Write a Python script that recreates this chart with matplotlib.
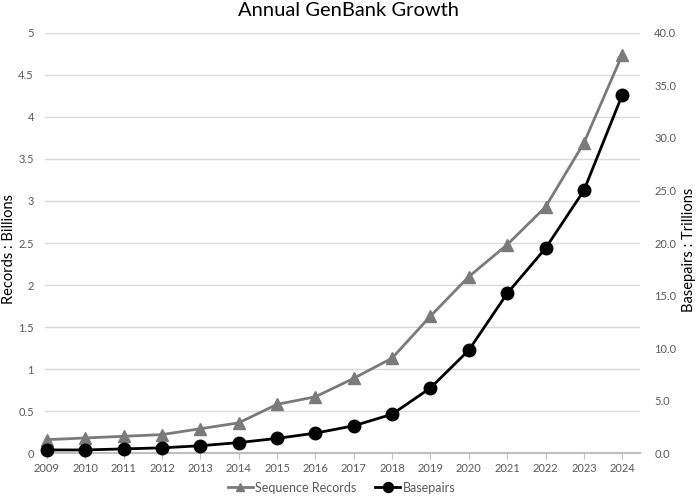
import matplotlib
matplotlib.use("Agg")
import matplotlib.pyplot as plt

years = list(range(2009, 2025))
records = [0.16, 0.18, 0.20, 0.22, 0.29, 0.36, 0.58, 0.67, 0.89, 1.13,
           1.63, 2.10, 2.48, 2.93, 3.69, 4.74]          # billions
basepairs = [0.3, 0.3, 0.4, 0.5, 0.7, 1.0, 1.4, 1.9, 2.6, 3.7,
             6.2, 9.8, 15.2, 19.5, 25.0, 34.1]          # trillions

plt.rcParams['font.family'] = ['Lato', 'DejaVu Sans']

fig = plt.figure(figsize=(6.97, 4.99), dpi=100)
ax = fig.add_axes([0.0646, 0.092, 0.854, 0.842])
ax2 = ax.twinx()

grey = '#7a7a7a'
tick_col = '#595959'

l1, = ax.plot(years, records, color=grey, lw=2, marker='^', ms=8,
              label='Sequence Records', zorder=3, clip_on=False)
l2, = ax2.plot(years, basepairs, color='black', lw=2, marker='o', ms=9,
               label='Basepairs', zorder=3, clip_on=False)

ax.set_xlim(2008.95, 2024.47)
ax.set_ylim(0, 5)
ax2.set_ylim(0, 40)
ax.set_xticks(years)
ax.set_yticks([i * 0.5 for i in range(11)])
ax.set_yticklabels(['0', '0.5', '1', '1.5', '2', '2.5', '3', '3.5', '4', '4.5', '5'])
ax2.set_yticks(range(0, 41, 5))
ax2.set_yticklabels([f'{v:.1f}' for v in range(0, 41, 5)])

ax.grid(axis='y', color='#d9d9d9', lw=1)
ax.set_axisbelow(True)
for a in (ax, ax2):
    for s in a.spines.values():
        s.set_visible(False)
ax.spines['bottom'].set_visible(True)
ax.spines['bottom'].set_color('#bfbfbf')
ax.spines['bottom'].set_linewidth(1.5)

ax.tick_params(axis='x', colors='#bfbfbf', labelcolor=tick_col, labelsize=8,
               length=4, direction='out', pad=3)
ax.tick_params(axis='y', length=0, labelcolor=tick_col, labelsize=8, pad=8)
ax2.tick_params(axis='y', length=0, labelcolor=tick_col, labelsize=8, pad=10)

# axis titles placed in figure coords so they stay inside the canvas
fig.text(0.013, 0.5, 'Records : Billions', rotation=90, fontsize=10.5,
         ha='center', va='center')
fig.text(0.988, 0.5, 'Basepairs : Trillions', rotation=90, fontsize=10.5,
         ha='center', va='center')
fig.suptitle('Annual GenBank Growth', fontsize=14.5, y=0.995, x=0.5)

fig.legend(handles=[l1, l2], loc='lower center', ncol=2, frameon=False,
           fontsize=9, bbox_to_anchor=(0.49, -0.012), handlelength=2,
           columnspacing=1.5, handletextpad=0.2, labelcolor=tick_col,
           markerscale=0.8)

fig.savefig('out.png', dpi=100)
